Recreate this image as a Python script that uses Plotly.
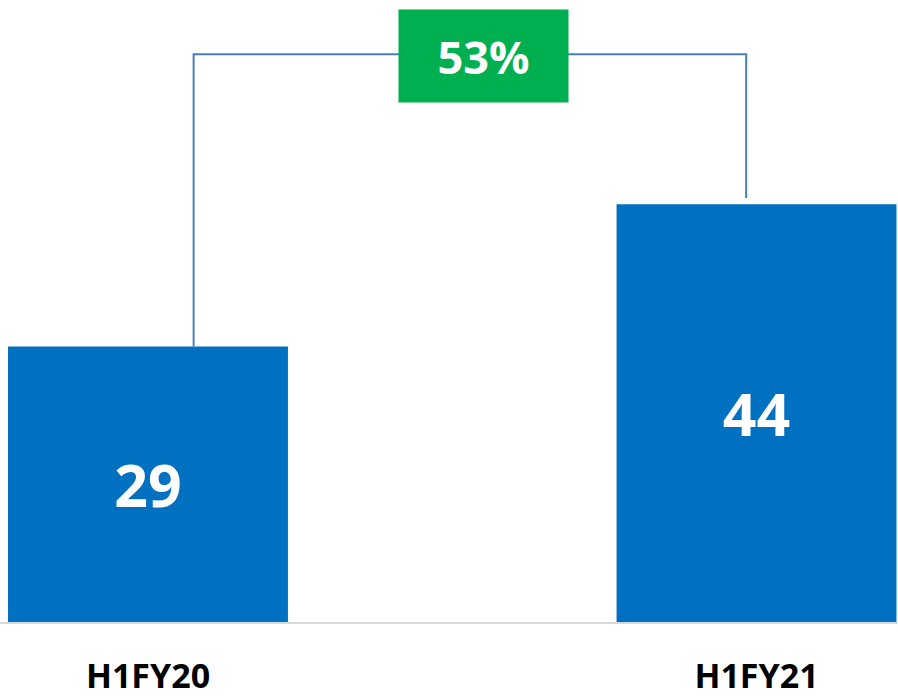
import plotly.graph_objects as go

categories = ["H1FY20", "H1FY21"]
values = [29, 44]
growth_label = "53%"

bar_color = "#0070C0"
line_color = "#4A7EBB"
badge_color = "#00B050"
FONT = "Open Sans"

fig = go.Figure()

fig.add_trace(go.Bar(
    x=[0, 1], y=values, width=0.46,
    marker=dict(color=bar_color, line=dict(width=0)),
    text=[str(v) for v in values],
    textposition="inside", insidetextanchor="middle",
    textfont=dict(family=FONT, size=59, color="white", weight="bold"),
    hoverinfo="skip", showlegend=False,
))

# connector bracket
top_y = 59.8
x_left = 0 + 0.075
x_right = 1 - 0.017
fig.add_trace(go.Scatter(
    x=[x_left, x_left, x_right, x_right],
    y=[values[0], top_y, top_y, values[1] + 0.65],
    mode="lines", line=dict(color=line_color, width=2),
    hoverinfo="skip", showlegend=False,
))

fig.add_annotation(
    x=0.551, y=top_y - 0.2, xref="x", yref="y",
    text=growth_label, showarrow=False,
    font=dict(family=FONT, size=45, color="white", weight="bold"),
    bgcolor=badge_color, width=169, height=92, borderpad=0,
    xanchor="center", yanchor="middle",
)

fig.update_layout(
    width=898, height=699,
    margin=dict(l=0, r=0, t=0, b=77, autoexpand=False),
    paper_bgcolor="white", plot_bgcolor="white",
    xaxis=dict(
        range=[-0.2432, 1.2325],
        tickvals=[0, 1], ticktext=categories,
        tickfont=dict(family=FONT, size=34, color="#000000", weight="bold"),
        showgrid=False, zeroline=False, automargin=False,
        showline=True, linecolor="#D9D9D9", linewidth=2,
        ticks="", ticklabelstandoff=23,
    ),
    yaxis=dict(
        range=[0, 65.5], visible=False, showgrid=False, zeroline=False,
    ),
)

fig.write_html(
    "out.html",
    config={"displayModeBar": False},
    post_script="document.body.style.margin='0';document.body.style.overflow='hidden';",
)
